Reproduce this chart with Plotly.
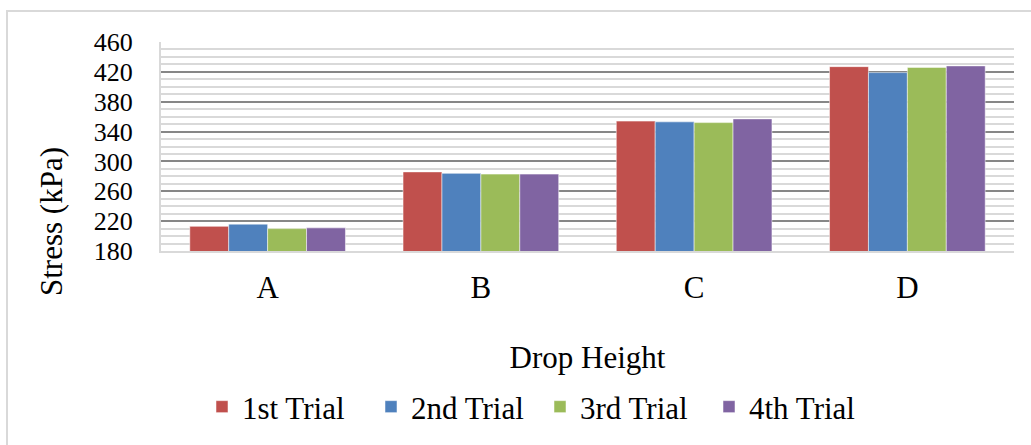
import plotly.graph_objects as go

categories = ["A", "B", "C", "D"]
trial1 = [213, 286, 354, 427]
trial2 = [216, 284, 353, 419]
trial3 = [210, 283, 352, 426]
trial4 = [211, 283, 357, 428]
series_names = ["1st Trial", "2nd Trial", "3rd Trial", "4th Trial"]
colors = ["#C0504D", "#4F81BD", "#9BBB59", "#8064A2"]

W, H = 1031, 445
L, R, T, B = 161, 1014, 42, 251
FONT = "Liberation Serif, Times New Roman, serif"


def px_x(p):
    return (p - L) / (R - L)


def px_y(p):
    return (B - p) / (B - T)


fig = go.Figure()
for name, vals, col in zip(series_names, [trial1, trial2, trial3, trial4], colors):
    fig.add_trace(go.Bar(
        x=categories, y=vals, name=name,
        marker=dict(color=col, line=dict(color="rgba(255,255,255,0.5)", width=1)),
    ))

fig.update_layout(
    width=W, height=H,
    margin=dict(l=L, r=W - R, t=T, b=H - B, autoexpand=False),
    paper_bgcolor="white", plot_bgcolor="white",
    barmode="group", bargap=0.27, bargroupgap=0,
    font=dict(family=FONT, size=31, color="black"),
    showlegend=True,
    legend=dict(orientation="h", x=px_x(540), y=px_y(407), xanchor="center", yanchor="middle",
                font=dict(family=FONT, size=31, color="black"), itemwidth=30,
                entrywidth=124, entrywidthmode="pixels",
                bgcolor="rgba(0,0,0,0)", traceorder="normal"),
    xaxis=dict(
        showgrid=False, showline=True, linecolor="#D9D9D9", linewidth=2,
        ticks="", ticklabelstandoff=8,
        tickfont=dict(family=FONT, size=31, color="black"),
        title=dict(text="Drop Height", font=dict(family=FONT, size=31, color="black"), standoff=42),
        automargin=False,
    ),
    yaxis=dict(
        range=[180, 460], dtick=40, tick0=180,
        showgrid=True, gridcolor="#878787", gridwidth=2,
        minor=dict(dtick=10, showgrid=True, gridcolor="#D9D9D9", gridwidth=2),
        showline=True, linecolor="#D9D9D9", linewidth=2,
        zeroline=False, ticks="", ticklabelstandoff=21,
        tickfont=dict(family=FONT, size=26, color="black"),
        automargin=False,
    ),
    annotations=[dict(
        text="Stress (kPa)", textangle=-90, xref="paper", yref="paper",
        x=px_x(51), y=px_y(222), xanchor="center", yanchor="middle", showarrow=False,
        font=dict(family=FONT, size=31, color="black"),
    )],
    shapes=[dict(
        type="rect", xref="paper", yref="paper",
        x0=px_x(7), x1=px_x(1040), y0=px_y(11), y1=px_y(460),
        line=dict(color="#D9D9D9", width=2), fillcolor="rgba(0,0,0,0)", layer="below",
    )],
)

fig.write_html("out.html")
